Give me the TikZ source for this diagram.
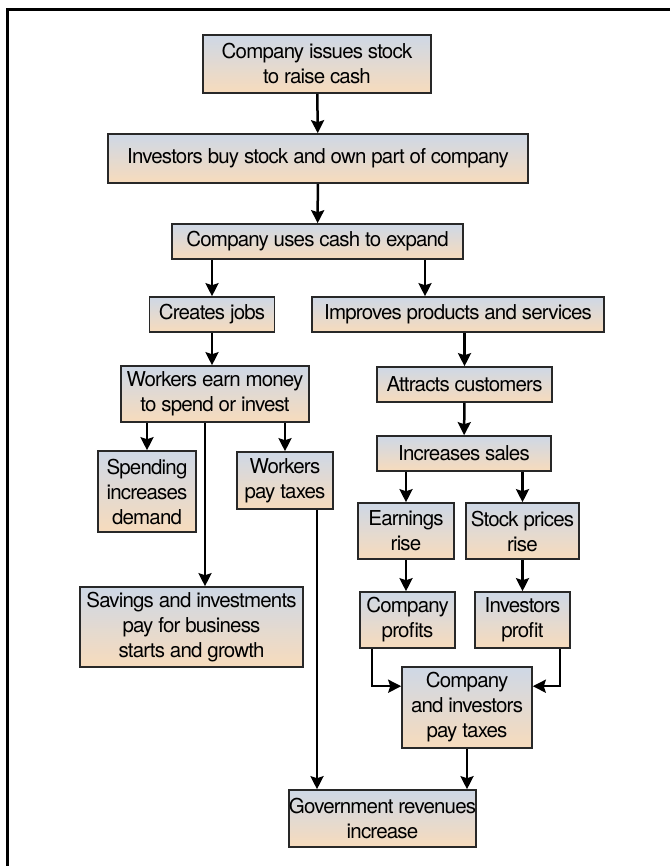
\documentclass[tikz,border=0pt]{standalone}
\usepackage{fontspec}
\setmainfont{TeX Gyre Heros}[LetterSpace=-4]
\usetikzlibrary{arrows.meta,calc}

\definecolor{boxtop}{RGB}{206,216,230}
\definecolor{boxbottom}{RGB}{247,219,188}
\definecolor{boxline}{RGB}{40,40,40}

\tikzset{
  flowbox/.style={draw=boxline, line width=1.6pt, top color=boxtop, bottom color=boxbottom,
    align=center, inner sep=0pt, font=\fontsize{20.5}{25}\selectfont},
  flowarrow/.style={line width=2.5pt, -{Stealth[length=13pt,width=13pt,inset=2pt]}},
}

\begin{document}
\begin{tikzpicture}[x=1pt,y=1pt,yscale=-1,xscale=1]
\useasboundingbox (0,0) rectangle (670,866);

%Frame
\draw [line width=3pt] (7,866) -- (7,9.5) -- (670,9.5);

% Boxes, left column and top
\node [flowbox, minimum width=228, minimum height=58] (issue) at (317,64) {Company issues stock\\to raise cash};
\node [flowbox, minimum width=420, minimum height=49] (buy) at (318,158.5) {Investors buy stock and own part of company};
\node [flowbox, minimum width=291, minimum height=35] (expand) at (317.5,241.5) {Company uses cash to expand};
\node [flowbox, minimum width=125, minimum height=35] (jobs) at (212,314.5) {Creates jobs};
\node [flowbox, minimum width=188, minimum height=56] (earn) at (215,394) {Workers earn money\\to spend or invest};
\node [flowbox, minimum width=98, minimum height=81] (spend) at (147,491.5) {Spending\\increases\\demand};
\node [flowbox, minimum width=96, minimum height=57] (wtaxes) at (285,480.5) {Workers\\pay taxes};
\node [flowbox, minimum width=223, minimum height=80] (savings) at (191.5,627) {Savings and investments\\pay for business\\starts and growth};

% Boxes, right column
\node [flowbox, minimum width=292, minimum height=35] (improve) at (458,314.5) {Improves products and services};
\node [flowbox, minimum width=175, minimum height=35] (attract) at (464.5,384.5) {Attracts customers};
\node [flowbox, minimum width=174, minimum height=35] (sales) at (464,453.5) {Increases sales};
\node [flowbox, minimum width=96, minimum height=56] (earnings) at (406,531) {Earnings\\rise};
\node [flowbox, minimum width=113, minimum height=56] (prices) at (522.5,531) {Stock prices\\rise};
\node [flowbox, minimum width=95, minimum height=56] (cprofit) at (407.5,620) {Company\\profits};
\node [flowbox, minimum width=95, minimum height=56] (iprofit) at (522.5,620) {Investors\\profit};
\node [flowbox, minimum width=130, minimum height=81] (ctaxes) at (467,707.5) {Company\\and investors\\pay taxes};
\node [flowbox, minimum width=187, minimum height=57] (gov) at (382.5,818.5) {Government revenues\\increase};

% Arrows
\draw [flowarrow] (issue) -- (buy);
\draw [flowarrow] (buy) -- (expand);
\draw [flowarrow] (jobs.north |- expand.south) -- (jobs.north);
\draw [flowarrow] ([xshift=107.5pt]expand.south) coordinate (e2) -- (e2 |- improve.north);
\draw [flowarrow] (jobs.south) -- (jobs.south |- earn.north);
\draw [flowarrow] (spend.north |- earn.south) -- (spend.north);
\draw [flowarrow] ([xshift=-10pt]earn.south) coordinate (s1) -- (s1 |- savings.north);
\draw [flowarrow] (wtaxes.north |- earn.south) -- (wtaxes.north);
\draw [flowarrow] ([xshift=32pt]wtaxes.south) coordinate (t1) -- (t1 |- gov.north);

\draw [flowarrow] (attract.north |- improve.south) -- (attract.north);
\draw [flowarrow] (attract) -- (sales);
\draw [flowarrow] (earnings.north |- sales.south) -- (earnings.north);
\draw [flowarrow] (prices.north |- sales.south) -- (prices.north);
\draw [flowarrow] (earnings.south) -- (earnings.south |- cprofit.north);
\draw [flowarrow] (prices.south) -- (prices.south |- iprofit.north);
\draw [flowarrow] ([xshift=-35.5pt]cprofit.south) |- ($(ctaxes.north west)+(0,20)$);
\draw [flowarrow] ([xshift=37.5pt]iprofit.south) |- ($(ctaxes.north east)+(0,20)$);
\draw [flowarrow] (ctaxes.south) -- (ctaxes.south |- gov.north);

\end{tikzpicture}
\end{document}
